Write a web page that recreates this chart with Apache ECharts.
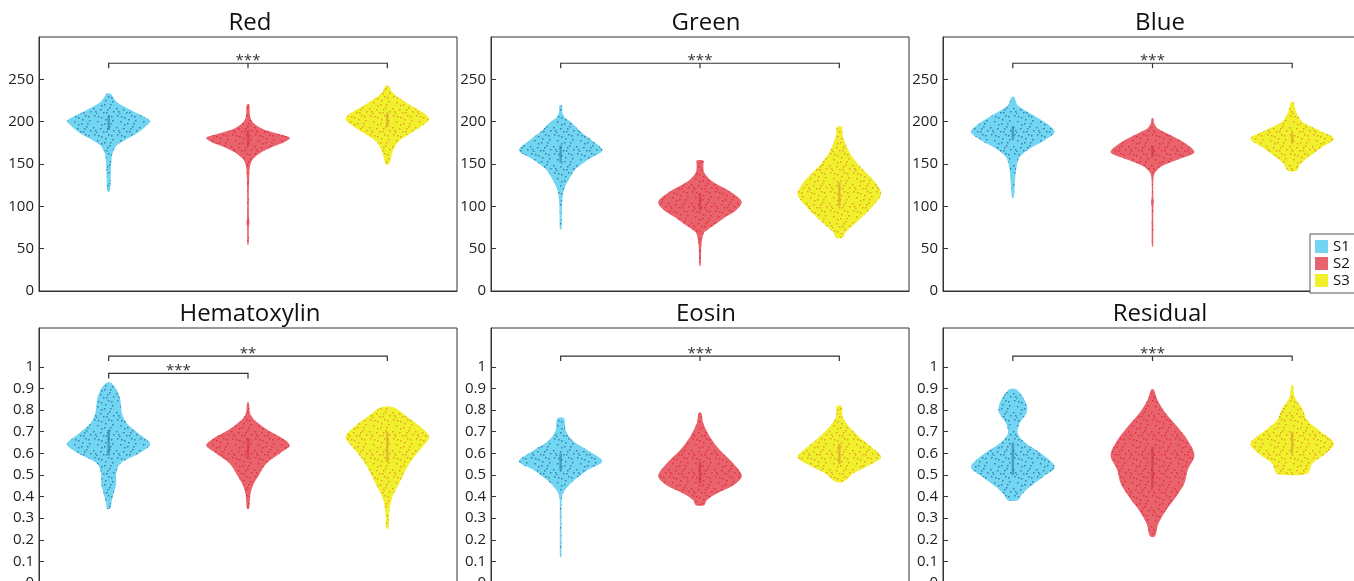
<!DOCTYPE html>
<html>
<head>
<meta charset="utf-8">
<script src="https://cdn.jsdelivr.net/npm/echarts@6/dist/echarts.min.js"></script>
<style>
html, body { margin: 0; padding: 0; background: #fff; }
#chart { width: 1354px; height: 581px; }
</style>
</head>
<body>
<div id="chart"></div>
<script>
// groups and panels
var groups = ['S1', 'S2', 'S3'];
var panelNames = ['Red', 'Green', 'Blue', 'Hematoxylin', 'Eosin', 'Residual'];
var rgbTicks = [0, 50, 100, 150, 200, 250];
var stainTicks = [0, 0.1, 0.2, 0.3, 0.4, 0.5, 0.6, 0.7, 0.8, 0.9, 1];

// violin outlines, top to bottom: [value, relative half width]
var redS1 = [[233,0.05],[231,0.08],[223,0.2],[215,0.48],[207,0.8],[201,1.0],[196,0.92],[190,0.78],[184,0.6],[178,0.38],[172,0.2],[166,0.12],[160,0.08],[150,0.06],[135,0.05],[118,0.03]];
var redS2 = [[220,0.03],[212,0.04],[204,0.06],[198,0.14],[192,0.32],[186,0.7],[181,1.0],[176,0.88],[172,0.68],[164,0.32],[156,0.12],[148,0.05],[130,0.025],[100,0.02],[85,0.025],[80,0.035],[75,0.02],[55,0.015]];
var redS3 = [[242,0.04],[236,0.1],[231,0.2],[225,0.38],[219,0.56],[210,0.88],[203,1.0],[194,0.8],[184,0.48],[178,0.3],[172,0.2],[165,0.13],[160,0.1],[150,0.04]];

var greenS1 = [[219,0.03],[211,0.04],[205,0.1],[200,0.24],[188,0.48],[176,0.8],[166,1.0],[156,0.68],[144,0.36],[132,0.2],[120,0.08],[108,0.04],[90,0.025],[73,0.02]];
var greenS2 = [[154,0.08],[148,0.08],[140,0.1],[130,0.28],[120,0.64],[112,0.88],[105,1.0],[96,0.88],[87,0.6],[77,0.32],[69,0.1],[57,0.04],[45,0.025],[30,0.016]];
var greenS3 = [[194,0.06],[188,0.07],[180,0.1],[164,0.24],[148,0.48],[136,0.72],[124,0.92],[114,1.0],[100,0.8],[88,0.56],[77,0.32],[69,0.14],[63,0.08]];

var blueS1 = [[229,0.03],[219,0.12],[208,0.48],[198,0.8],[188,1.0],[178,0.76],[168,0.4],[158,0.16],[144,0.08],[128,0.05],[110,0.02]];
var blueS2 = [[204,0.02],[198,0.04],[192,0.12],[184,0.44],[174,0.8],[164,1.0],[156,0.64],[148,0.24],[140,0.06],[130,0.02],[110,0.02],[106,0.035],[100,0.02],[53,0.015]];
var blueS3 = [[223,0.03],[211,0.1],[200,0.24],[190,0.64],[180,1.0],[170,0.72],[160,0.44],[150,0.2],[142,0.1]];

var hemaS1 = [[0.926,0.06],[0.892,0.2],[0.846,0.28],[0.784,0.32],[0.738,0.44],[0.691,0.72],[0.642,1.0],[0.599,0.72],[0.553,0.28],[0.506,0.18],[0.46,0.18],[0.414,0.12],[0.367,0.06],[0.344,0.04]];
var hemaS2 = [[0.835,0.02],[0.784,0.05],[0.753,0.16],[0.707,0.48],[0.668,0.84],[0.636,1.0],[0.599,0.76],[0.553,0.44],[0.506,0.28],[0.46,0.14],[0.414,0.06],[0.344,0.025]];
var hemaS3 = [[0.812,0.16],[0.768,0.48],[0.722,0.8],[0.676,1.0],[0.63,0.84],[0.583,0.64],[0.537,0.48],[0.491,0.36],[0.444,0.24],[0.398,0.12],[0.336,0.05],[0.252,0.025]];

var eosinS1 = [[0.761,0.08],[0.707,0.12],[0.66,0.28],[0.614,0.64],[0.563,1.0],[0.522,0.64],[0.475,0.32],[0.429,0.1],[0.398,0.03],[0.3,0.02],[0.12,0.015]];
var eosinS2 = [[0.787,0.03],[0.738,0.08],[0.676,0.24],[0.614,0.48],[0.553,0.8],[0.494,1.0],[0.452,0.8],[0.414,0.4],[0.383,0.16],[0.36,0.1]];
var eosinS3 = [[0.818,0.06],[0.768,0.08],[0.722,0.24],[0.676,0.48],[0.63,0.76],[0.583,1.0],[0.545,0.72],[0.506,0.32],[0.468,0.1]];

var residS1 = [[0.897,0.08],[0.861,0.24],[0.815,0.34],[0.784,0.32],[0.738,0.16],[0.691,0.12],[0.645,0.32],[0.599,0.68],[0.537,1.0],[0.491,0.72],[0.444,0.4],[0.406,0.2],[0.383,0.12]];
var residS2 = [[0.895,0.03],[0.846,0.12],[0.784,0.32],[0.722,0.6],[0.66,0.84],[0.591,1.0],[0.522,0.84],[0.46,0.76],[0.398,0.56],[0.336,0.32],[0.275,0.14],[0.216,0.06]];
var residS3 = [[0.915,0.02],[0.861,0.06],[0.807,0.24],[0.753,0.36],[0.707,0.64],[0.645,1.0],[0.599,0.8],[0.553,0.48],[0.506,0.36]];

// interquartile bars [q1, q3] for S1, S2, S3
var redBox = [[190,207],[172,190],[194,211]];
var greenBox = [[152,172],[95,115],[100,128]];
var blueBox = [[178,195],[158,172],[174,186]];
var hemaBox = [[0.59,0.71],[0.58,0.67],[0.56,0.70]];
var eosinBox = [[0.52,0.6],[0.46,0.56],[0.55,0.645]];
var residBox = [[0.5,0.65],[0.44,0.63],[0.6,0.7]];

// significance brackets: [from group, to group, level, middle tick]
var redSig = [[0, 2, 269, 1]];
var greenSig = [[0, 2, 269, 1]];
var blueSig = [[0, 2, 269, 1]];
var hemaSig = [[0, 2, 1.05, 0], [0, 1, 0.97, 0]];
var eosinSig = [[0, 2, 1.05, 1]];
var residSig = [[0, 2, 1.05, 1]];
var redStars = ['***'];
var greenStars = ['***'];
var blueStars = ['***'];
var hemaStars = ['**', '***'];
var eosinStars = ['***'];
var residStars = ['***'];

var colors = ['#72d6f2', '#e8636b', '#f0f02c'];
var dotColors = ['rgba(35,105,155,0.75)', 'rgba(225,25,45,0.7)', 'rgba(230,140,40,0.8)'];
var boxColors = ['rgba(40,120,165,0.6)', 'rgba(205,45,55,0.55)', 'rgba(215,160,50,0.65)'];

var panels = [
    {violins: [redS1, redS2, redS3], box: redBox, sig: redSig, stars: redStars},
    {violins: [greenS1, greenS2, greenS3], box: greenBox, sig: greenSig, stars: greenStars},
    {violins: [blueS1, blueS2, blueS3], box: blueBox, sig: blueSig, stars: blueStars},
    {violins: [hemaS1, hemaS2, hemaS3], box: hemaBox, sig: hemaSig, stars: hemaStars},
    {violins: [eosinS1, eosinS2, eosinS3], box: eosinBox, sig: eosinSig, stars: eosinStars},
    {violins: [residS1, residS2, residS3], box: residBox, sig: residSig, stars: residStars}
];

var font = '"Open Sans", "DejaVu Sans", sans-serif';
var colLeft = [39, 491, 943];
var colWidth = [418, 418, 419];
var rowTop = [37, 328];
var rowHeight = [254, 255];

// speckle texture standing in for the jittered points
function speckle(color) {
    var c = document.createElement('canvas');
    c.width = 23; c.height = 19;
    var ctx = c.getContext('2d');
    ctx.fillStyle = color;
    [[2,1],[9,3],[16,1],[20,6],[5,7],[12,9],[1,13],[8,14],[17,12],[14,17],[21,16],[4,18],
     [6,2],[13,5],[18,9],[9,10],[3,16],[11,17],[19,2],[15,14]].forEach(function (p) {
        ctx.fillRect(p[0], p[1], 1.5, 1.5);
    });
    return c;
}
var patterns = dotColors.map(speckle);

function violinRenderer(profile, box, g) {
    return function (params, api) {
        var band = api.coord([1, 0])[0] - api.coord([0, 0])[0];
        var right = [], left = [];
        profile.forEach(function (p) {
            var c = api.coord([g, p[0]]);
            var hw = p[1] * 0.3 * band;
            right.push([c[0] + hw, c[1]]);
            left.unshift([c[0] - hw, c[1]]);
        });
        var pts = right.concat(left);
        var b0 = api.coord([g, box[g][1]]);
        var b1 = api.coord([g, box[g][0]]);
        return {
            type: 'group',
            children: [
                {type: 'polygon', shape: {points: pts, smooth: 0.3}, style: {fill: colors[g]}},
                {type: 'polygon', shape: {points: pts, smooth: 0.3}, style: {fill: {image: patterns[g], repeat: 'repeat'}}},
                {type: 'rect', shape: {x: b0[0] - 1.25, y: b0[1], width: 2.5, height: b1[1] - b0[1]}, style: {fill: boxColors[g]}}
            ]
        };
    };
}

function bracketRenderer(panel) {
    return function (params, api) {
        var s = panel.sig[params.dataIndex];
        var a = api.coord([s[0], s[2]]);
        var b = api.coord([s[1], s[2]]);
        var children = [
            {type: 'polyline', shape: {points: [[a[0], a[1] + 5], [a[0], a[1]], [b[0], b[1]], [b[0], b[1] + 5]]},
             style: {stroke: '#333', lineWidth: 1.2, fill: null}},
            {type: 'text', x: (a[0] + b[0]) / 2, y: a[1] + 5,
             style: {text: panel.stars[params.dataIndex], font: '15px ' + font, fill: '#333', align: 'center', verticalAlign: 'bottom'}}
        ];
        if (s[3]) {
            var m = api.coord([(s[0] + s[1]) / 2, s[2]]);
            children.push({type: 'line', shape: {x1: m[0], y1: m[1], x2: m[0], y2: m[1] + 5}, style: {stroke: '#333', lineWidth: 1.2}});
        }
        return {type: 'group', children: children};
    };
}

var grids = [], xAxes = [], yAxes = [], series = [], titles = [];
var titleX = [250, 706, 1160];
var titleY = [23.5, 314];

panels.forEach(function (panel, p) {
    var row = Math.floor(p / 3), col = p % 3;
    var isRgb = row === 0;
    grids.push({left: colLeft[col], top: rowTop[row], width: colWidth[col], height: rowHeight[row],
                show: true, borderColor: '#333', borderWidth: 1, outerBoundsMode: 'none'});
    xAxes.push({
        type: 'category', gridIndex: p, data: groups, boundaryGap: true,
        axisLine: {lineStyle: {color: '#333'}},
        axisTick: {inside: true, alignWithLabel: true, length: 6, lineStyle: {color: '#333'}},
        axisLabel: {show: false}, splitLine: {show: false}
    });
    var ticks = isRgb ? rgbTicks : stainTicks;
    yAxes.push({
        type: 'value', gridIndex: p, min: 0, max: isRgb ? 300 : 1.18,
        axisLine: {show: true, lineStyle: {color: '#333'}},
        axisTick: {show: true, inside: true, length: 5, customValues: ticks, lineStyle: {color: '#333'}},
        axisLabel: {customValues: ticks, margin: 5, color: '#222', fontSize: 15, fontFamily: font},
        splitLine: {show: false}
    });
    titles.push({type: 'text', x: titleX[col], y: titleY[row],
        style: {text: panelNames[p], font: '24px ' + font, fill: '#111', align: 'center', verticalAlign: 'middle'}});

    panel.violins.forEach(function (profile, g) {
        series.push({
            type: 'custom', name: groups[g], xAxisIndex: p, yAxisIndex: p,
            itemStyle: {color: colors[g]},
            renderItem: violinRenderer(profile, panel.box, g),
            encode: {x: 0, y: 1},
            data: [[g, panel.box[g][0]]],
            silent: true
        });
    });
    series.push({
        type: 'custom', xAxisIndex: p, yAxisIndex: p,
        renderItem: bracketRenderer(panel),
        encode: {x: 0, y: 2},
        data: panel.sig,
        silent: true
    });
});

var myChart = echarts.init(document.getElementById('chart'));
myChart.setOption({
    animation: false,
    grid: grids,
    xAxis: xAxes,
    yAxis: yAxes,
    graphic: titles,
    legend: {
        data: groups.map(function (g, i) { return {name: g, itemStyle: {color: colors[i]}}; }),
        left: 1310, top: 234, orient: 'vertical',
        itemWidth: 13, itemHeight: 13, itemGap: 2, icon: 'rect',
        padding: [5, 20, 5, 5],
        borderColor: '#555', borderWidth: 1, backgroundColor: '#fff',
        textStyle: {fontSize: 15, fontFamily: font, color: '#111'}
    },
    series: series
});
</script>
</body>
</html>
